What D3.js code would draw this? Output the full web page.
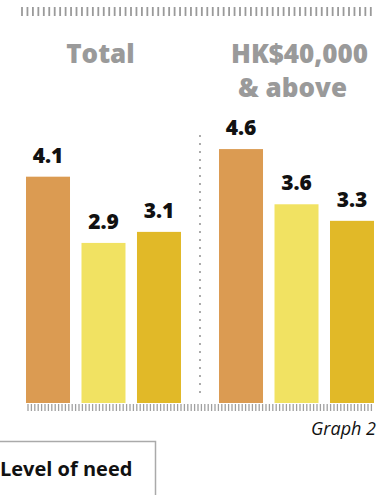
<!DOCTYPE html>
<html>
<head>
<meta charset="utf-8">
<script src="https://cdn.jsdelivr.net/npm/d3@7"></script>
<style>
html,body{margin:0;padding:0;background:#fff;overflow:hidden;}
svg{display:block;}
</style>
</head>
<body>
<svg id="chart" width="390" height="495"></svg>
<script>
const groups = ["Total", "HK$40,000 & above"];
const groupTitleLines = [["Total"], ["HK$40,000", "& above"]];
const series = ["s1", "s2", "s3"];
const valuesTotal = [4.1, 2.9, 3.1];
const valuesHigh = [4.6, 3.6, 3.3];
const colors = ["#DB9B52", "#F1E262", "#E1B928"];
const caption = "Graph 2";
const legendTitle = "Level of need";

const data = [valuesTotal, valuesHigh];

const svg = d3.select("#chart");
const baseY = 403;

const x0 = d3.scaleBand().domain(groups).range([26, 374]).paddingInner(0.197).paddingOuter(0);
const x1 = d3.scaleBand().domain(series).range([0, x0.bandwidth()]).paddingInner(0.207).paddingOuter(0);
const y = d3.scaleLinear().domain([0, 5]).range([baseY, baseY - 276]);
const color = d3.scaleOrdinal().domain(series).range(colors);

// top decorative tick row
svg.append("g").selectAll("line")
  .data(d3.range(22, 373, 5.45))
  .join("line")
  .attr("x1", d => d).attr("x2", d => d)
  .attr("y1", 7).attr("y2", 16)
  .attr("stroke", "#9a9a9a").attr("stroke-width", 1.8);

// group titles
const titleOffsets = [-3, 3];
groups.forEach((g, i) => {
  const cx = x0(g) + x0.bandwidth() / 2 + titleOffsets[i];
  const t = svg.append("text")
    .attr("x", cx).attr("y", 63)
    .attr("text-anchor", "middle")
    .attr("font-family", "'Open Sans', sans-serif")
    .attr("font-weight", 800)
    .attr("font-size", 26)
    .attr("fill", "#9a9a9a");
  groupTitleLines[i].forEach((line, j) => {
    t.append("tspan").attr("x", j === 0 ? cx : cx - 7).attr("dy", j === 0 ? 0 : 34).text(line);
  });
});

// separator dotted line
const sepX = x0(groups[1]) - (x0.step() - x0.bandwidth()) / 2;
svg.append("line")
  .attr("x1", sepX).attr("x2", sepX)
  .attr("y1", 136).attr("y2", 400)
  .attr("stroke", "#999").attr("stroke-width", 2.2)
  .attr("stroke-linecap", "round")
  .attr("stroke-dasharray", "0,8");

// bars
const gs = svg.append("g").selectAll("g")
  .data(groups)
  .join("g")
  .attr("transform", d => `translate(${x0(d)},0)`);

gs.selectAll("rect")
  .data((g, i) => series.map((s, j) => ({ s, v: data[i][j] })))
  .join("rect")
  .attr("x", d => x1(d.s))
  .attr("y", d => y(d.v))
  .attr("width", x1.bandwidth())
  .attr("height", d => baseY - y(d.v))
  .attr("fill", d => color(d.s));

gs.selectAll("text")
  .data((g, i) => series.map((s, j) => ({ s, v: data[i][j] })))
  .join("text")
  .attr("x", d => x1(d.s) + x1.bandwidth() / 2)
  .attr("y", d => y(d.v) - 14)
  .attr("text-anchor", "middle")
  .attr("font-family", "'Open Sans', sans-serif")
  .attr("font-weight", 800)
  .attr("font-size", 21)
  .attr("fill", "#111")
  .text(d => d3.format(".1f")(d.v));

// bottom tick row
svg.append("g").selectAll("line")
  .data(d3.range(28, 374, 3.4))
  .join("line")
  .attr("x1", d => d).attr("x2", d => d)
  .attr("y1", 404).attr("y2", 411)
  .attr("stroke", "#a0a0a0").attr("stroke-width", 1.3);

// caption
svg.append("text")
  .attr("x", 376).attr("y", 435)
  .attr("text-anchor", "end")
  .attr("font-family", "'Open Sans', sans-serif")
  .attr("font-style", "italic")
  .attr("font-size", 18)
  .attr("fill", "#111")
  .text(caption);

// legend box
svg.append("rect")
  .attr("x", -10).attr("y", 441.5)
  .attr("width", 165.5).attr("height", 70)
  .attr("fill", "none")
  .attr("stroke", "#aaa").attr("stroke-width", 1.5);

svg.append("text")
  .attr("x", 0).attr("y", 476)
  .attr("font-family", "'Open Sans', sans-serif")
  .attr("font-weight", "bold")
  .attr("font-size", 20)
  .attr("fill", "#111")
  .text(legendTitle);
</script>
</body>
</html>
